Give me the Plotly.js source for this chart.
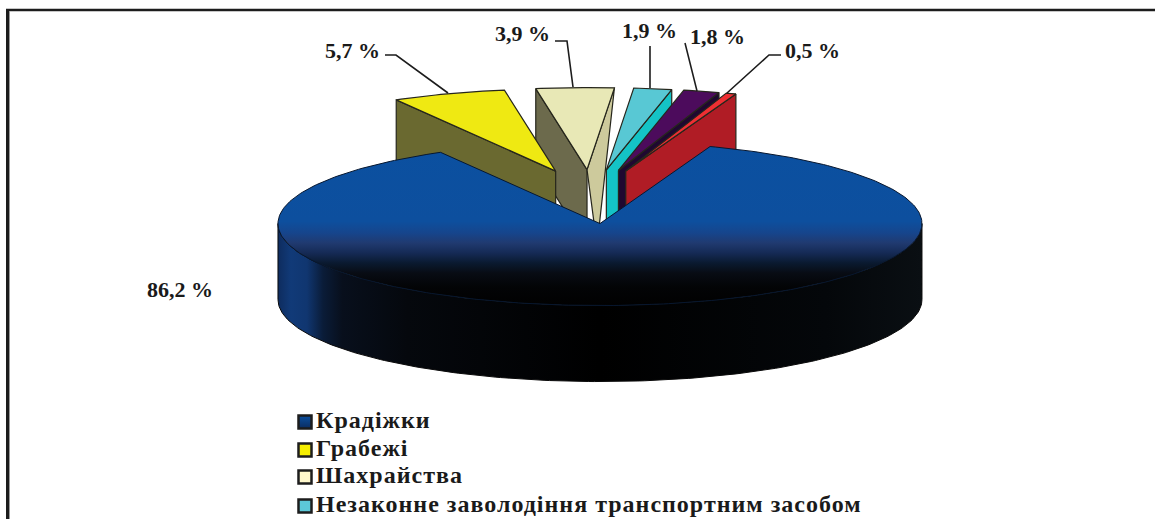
<!DOCTYPE html>
<html><head><meta charset="utf-8">
<script src="https://cdn.plot.ly/plotly-3.0.1.min.js"></script>
<style>html,body{margin:0;padding:0;background:#fff}#c{width:1155px;height:519px}
.textpoint text{letter-spacing:1px}</style>
</head><body><div id="c"></div>
<script>
// ---------- data ----------
const categories = ['Крадіжки','Грабежі','Шахрайства','Незаконне заволодіння транспортним засобом'];
const shares = [86.2,5.7,3.9,1.9,1.8,0.5];
const valueLabels = ['86,2 %','5,7 %','3,9 %','1,9 %','1,8 %','0,5 %'];
const topColors = ['#0b50a0','#efe912','#e8e8b6','#58c8d4','#4c0b5c','#ee2f33'];
const leftWallColors = [null,'#6a6930','#6c6a4c',null,null,null];
const rightWallColors = [null,null,'#cdca9c','#14c3c6','#1f0830','#b01c25'];
const swatchColors = ['#0b50a0','#f5ee00','#fff8cc','#5cc8d8'];
const swatchShade = ['#0b2c60','#f5ee00','#fff8cc','#5cc8d8'];

// ---------- geometry of the exploded pie, in pixels ----------
const CX=591, CY=196.6, RX=322, RY=82, DEPTH=76, PULL=0.33, START=20.0;
const rad=d=>d*Math.PI/180;
const total=shares.reduce((a,b)=>a+b,0);
let acc=START;
const slices=shares.map((v,i)=>{
  const a0=acc, a1=acc+v/total*360; acc=a1;
  const mid=(a0+a1)/2;
  return {i,a0,a1,cx:CX+PULL*RX*Math.sin(rad(mid)),cy:CY-PULL*RY*Math.cos(rad(mid))};
});
const pt=(s,a)=>[s.cx+RX*Math.sin(rad(a)),s.cy-RY*Math.cos(rad(a))];
function arc(s,a0,a1,dy=0){
  const n=Math.max(2,Math.ceil(Math.abs(a1-a0)));
  const out=[];
  for(let k=0;k<=n;k++){const p=pt(s,a0+(a1-a0)*k/n);out.push([p[0],p[1]+dy]);}
  return out;
}
function poly(points,fillcolor,line,extra){
  const c=points.concat([points[0]]);
  return Object.assign({type:'scatter',mode:'lines',x:c.map(p=>p[0]),y:c.map(p=>p[1]),fill:'toself',
    fillcolor,line:line||{color:'#26261c',width:1.2},hoverinfo:'skip',showlegend:false},extra||{});
}
function topFace(s){return poly([[s.cx,s.cy]].concat(arc(s,s.a0,s.a1)),topColors[s.i]);}
function wall(s,a,color,outerDepth,bottomShift){
  const o=pt(s,a);
  return poly([[s.cx,s.cy],o,[o[0],o[1]+outerDepth],[s.cx+bottomShift,s.cy+DEPTH]],color);
}

const [bigSlice,yellow,cream,teal,purple,redSlice]=slices;
const traces=[];
// cream first: the yellow slice overlaps it
traces.push(wall(cream,cream.a0,leftWallColors[2],DEPTH,0));
traces.push(wall(cream,cream.a1,rightWallColors[2],0,10));
traces.push(topFace(cream));
traces.push(wall(yellow,yellow.a0,leftWallColors[1],DEPTH,0));
traces.push(topFace(yellow));
[teal,purple,redSlice].forEach(s=>{
  traces.push(wall(s,s.a1,rightWallColors[s.i],DEPTH,0));
  traces.push(topFace(s));
});
// big slice: outer wall then top
const frontTop=arc(bigSlice,90,270), frontBottom=arc(bigSlice,270,90,DEPTH);
traces.push(poly(frontTop.concat(frontBottom),'#000',{color:'#0a0a0a',width:1},{
  fillgradient:{type:'horizontal',start:278,stop:922,colorscale:[
    [0,'#0e2c5e'],[0.02,'#113a78'],[0.045,'#103670'],[0.07,'#0a1c38'],[0.1,'#080f1c'],[0.2,'#05080d'],
    [0.5,'#000000'],[0.85,'#04070a'],[1,'#0a0f13']]}
}));
traces.push(poly([[bigSlice.cx,bigSlice.cy]].concat(arc(bigSlice,bigSlice.a0,bigSlice.a1)),'#0b50a0',{color:'#07172f',width:1},{
  fillgradient:{type:'vertical',start:143,stop:306,colorscale:[
    [0,'#0b50a0'],[0.48,'#0d4f9e'],[0.552,'#16458c'],[0.613,'#203a70'],[0.675,'#152a55'],[0.736,'#0a1a30'],[0.798,'#080c14'],[0.883,'#030406'],[1,'#010101']]}
}));

// leader lines
const leaderX=[[385,396,448],[555,567,573],[650,650],[685,697],[781,769,727]];
const leaderY=[[55,55,93],[41,41,87],[46,88],[43,91],[55,55,93]];
leaderX.forEach((x,i)=>traces.push({type:'scatter',mode:'lines',x,y:leaderY[i],line:{color:'#1c1c1c',width:1.6},hoverinfo:'skip',showlegend:false}));

// legend rows
const legendY=[422,450,477,506];
traces.push({type:'scatter',mode:'markers',x:legendY.map(()=>305),y:legendY,
  marker:{symbol:'square',size:13,color:swatchColors,line:{color:'#1d1d1d',width:2.5},
    gradient:{type:'vertical',color:swatchShade}},
  hoverinfo:'skip',showlegend:false,cliponaxis:false});
traces.push({type:'scatter',mode:'text',x:legendY.map(()=>316),y:legendY,text:categories,textposition:'middle right',
  textfont:{family:'"Liberation Serif",serif',size:24,color:'#1a1a1a',weight:700},
  hoverinfo:'skip',showlegend:false,cliponaxis:false});

const labelX=[180,352,522,649,717,812.5];
const labelY=[289,50,33,30,36,50];
const annotations=valueLabels.map((t,i)=>({x:labelX[i],y:labelY[i],text:'<b>'+t+'</b>',showarrow:false,xanchor:'center',yanchor:'middle',
  font:{family:'"Liberation Serif",serif',size:22,color:'#1a1a1a'}}));

const layout={width:1155,height:519,margin:{l:0,r:0,t:0,b:0},paper_bgcolor:'#fff',plot_bgcolor:'#fff',showlegend:false,
  xaxis:{range:[0,1155],visible:false,fixedrange:true},
  yaxis:{range:[519,0],visible:false,fixedrange:true},
  annotations,
  shapes:[
    {type:'line',x0:6,x1:1155,y0:10,y1:10,line:{color:'#1c1c1c',width:2.5}},
    {type:'line',x0:7.5,x1:7.5,y0:9,y1:519,line:{color:'#1c1c1c',width:3}},
    {type:'line',x0:9.5,x1:9.5,y0:11,y1:519,line:{color:'#9a9a9a',width:1}}
  ]};
Plotly.newPlot('c',traces,layout,{displayModeBar:false,staticPlot:true});
</script></body></html>
